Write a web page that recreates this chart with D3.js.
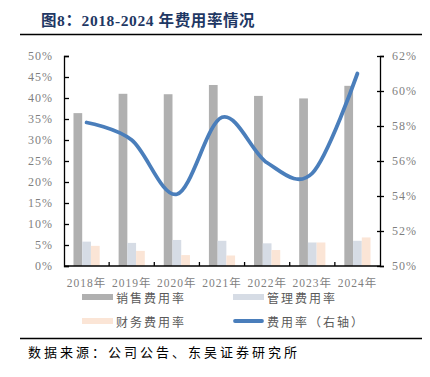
<!DOCTYPE html>
<html>
<head>
<meta charset="utf-8">
<script src="https://cdn.jsdelivr.net/npm/d3@7"></script>
<style>
  body { margin: 0; background: #fff; }
  svg { display: block; }
</style>
</head>
<body>
<div id="chart"></div>
<script>
const years = ['2018年', '2019年', '2020年', '2021年', '2022年', '2023年', '2024年']
const salesRate = [36.4, 41.0, 40.9, 43.1, 40.5, 39.9, 42.9]
const adminRate = [5.8, 5.5, 6.2, 6.0, 5.4, 5.6, 6.0]
const financeRate = [4.8, 3.6, 2.6, 2.5, 3.8, 5.6, 6.8]
const totalRate = [58.2, 57.2, 54.1, 58.5, 55.9, 55.3, 61.0]
const leftTicks = [0, 5, 10, 15, 20, 25, 30, 35, 40, 45, 50]
const rightTicks = [50, 52, 54, 56, 58, 60, 62]

const width = 430, height = 377
const margin = { top: 56, right: 50, bottom: 111, left: 64 }
const serif = '"Liberation Serif", "Times New Roman", serif'
const cjk = '"Noto Sans CJK SC", sans-serif'
const tickColor = '#7f7f7f'

const svg = d3.select('#chart').append('svg')
    .attr('width', width)
    .attr('height', height)

// title + rule
svg.append('text')
    .attr('x', 41).attr('y', 26)
    .attr('font-family', `${serif}, ${cjk}`)
    .attr('font-weight', 'bold')
    .attr('font-size', 15.5)
    .attr('letter-spacing', 0.6)
    .attr('fill', '#1f3864')
    .text('图8：2018-2024 年费用率情况')
svg.append('line')
    .attr('x1', 20).attr('x2', 422).attr('y1', 34.5).attr('y2', 34.5)
    .attr('stroke', '#000').attr('stroke-width', 1.5)

const x = d3.scaleBand()
    .domain(years)
    .range([margin.left, width - margin.right])
const yL = d3.scaleLinear().domain([0, 50]).range([height - margin.bottom, margin.top])
const yR = d3.scaleLinear().domain([50, 62]).range([height - margin.bottom, margin.top])

const groupW = x.bandwidth() * 0.58
const x1 = d3.scaleBand().domain(['sales', 'admin', 'finance']).range([0, groupW])
const barColors = { sales: '#b0b0b0', admin: '#d6dce5', finance: '#fbe5d6' }
const series = { sales: salesRate, admin: adminRate, finance: financeRate }

// bars
const bars = svg.append('g').attr('class', 'bars')
Object.keys(series).forEach(key => {
    bars.selectAll('.bar_' + key)
        .data(series[key])
        .enter()
        .append('rect')
        .attr('class', 'bar_' + key)
        .attr('x', (d, i) => x(years[i]) + (x.bandwidth() - groupW) / 2 + x1(key))
        .attr('y', d => yL(d))
        .attr('width', x1.bandwidth())
        .attr('height', d => yL(0) - yL(d))
        .attr('fill', barColors[key])
})

// left axis
const leftAxis = svg.append('g')
    .attr('transform', `translate(${margin.left},0)`)
    .call(d3.axisLeft(yL).tickValues(leftTicks).tickSize(-5).tickPadding(11).tickFormat(d => d + '%'))
// right axis
const rightAxis = svg.append('g')
    .attr('transform', `translate(${width - margin.right},0)`)
    .call(d3.axisRight(yR).tickValues(rightTicks).tickSize(4).tickPadding(8).tickFormat(d => d + '%'))
rightAxis.selectAll('.tick line').attr('x1', -3)

// bottom axis with ticks at category boundaries
const bottom = svg.append('g')
    .attr('transform', `translate(0,${height - margin.bottom})`)
bottom.append('line')
    .attr('x1', margin.left).attr('x2', width - margin.right)
    .attr('stroke', '#000').attr('stroke-width', 1.3)
bottom.selectAll('.btick')
    .data(years.slice(1))
    .enter()
    .append('line')
    .attr('class', 'btick')
    .attr('x1', d => x(d)).attr('x2', d => x(d))
    .attr('y1', 0).attr('y2', -4)
    .attr('stroke', '#000').attr('stroke-width', 1.3)
bottom.selectAll('.blabel')
    .data(years)
    .enter()
    .append('text')
    .attr('class', 'blabel')
    .attr('x', d => x(d) + x.bandwidth() / 2)
    .attr('y', 21)
    .attr('text-anchor', 'middle')
    .attr('font-family', `${serif}, ${cjk}`)
    .attr('font-size', 11.5)
    .attr('letter-spacing', 1)
    .attr('fill', tickColor)
    .text(d => d)

;[leftAxis, rightAxis].forEach(ax => {
    ax.select('.domain').attr('stroke', '#000').attr('stroke-width', 1.3)
    ax.selectAll('.tick line').attr('stroke', '#000').attr('stroke-width', 1.3)
    ax.selectAll('.tick text')
        .attr('font-family', serif)
        .attr('font-size', 12)
        .attr('letter-spacing', 1)
        .attr('fill', tickColor)
})

// expense-rate line (right axis)
const line = d3.line()
    .x((d, i) => x(years[i]) + x.bandwidth() / 2)
    .y(d => yR(d))
    .curve(d3.curveCardinal.tension(0))
svg.append('path')
    .datum(totalRate)
    .attr('d', line)
    .attr('fill', 'none')
    .attr('stroke', '#4a7ebb')
    .attr('stroke-width', 3.8)
    .attr('stroke-linecap', 'round')

// legend
const legendItems = [
    { label: '销售费用率', color: barColors.sales, type: 'bar', lx: 82, ly: 297 },
    { label: '管理费用率', color: barColors.admin, type: 'bar', lx: 233, ly: 297 },
    { label: '财务费用率', color: barColors.finance, type: 'bar', lx: 82, ly: 321 },
    { label: '费用率（右轴）', color: '#4a7ebb', type: 'line', lx: 233, ly: 321 }
]
const legend = svg.append('g').attr('class', 'legend_wrapper')
legendItems.forEach(it => {
    if (it.type === 'bar') {
        legend.append('rect')
            .attr('x', it.lx).attr('y', it.ly - 3)
            .attr('width', 31).attr('height', 6)
            .attr('fill', it.color)
    } else {
        legend.append('line')
            .attr('x1', it.lx + 2).attr('x2', it.lx + 29)
            .attr('y1', it.ly).attr('y2', it.ly)
            .attr('stroke', it.color).attr('stroke-width', 3.8)
            .attr('stroke-linecap', 'round')
    }
    legend.append('text')
        .attr('x', it.lx + 34).attr('y', it.ly)
        .attr('dominant-baseline', 'central')
        .attr('font-family', cjk)
        .attr('font-size', 12)
        .attr('letter-spacing', 2)
        .attr('fill', '#595959')
        .text(it.label)
})

// source
svg.append('line')
    .attr('x1', 20).attr('x2', 422).attr('y1', 338.5).attr('y2', 338.5)
    .attr('stroke', '#000').attr('stroke-width', 1.5)
svg.append('text')
    .attr('x', 28).attr('y', 357)
    .attr('font-family', cjk)
    .attr('font-size', 13)
    .attr('letter-spacing', 3)
    .attr('fill', '#000')
    .text('数据来源：公司公告、东吴证券研究所')
</script>
</body>
</html>
